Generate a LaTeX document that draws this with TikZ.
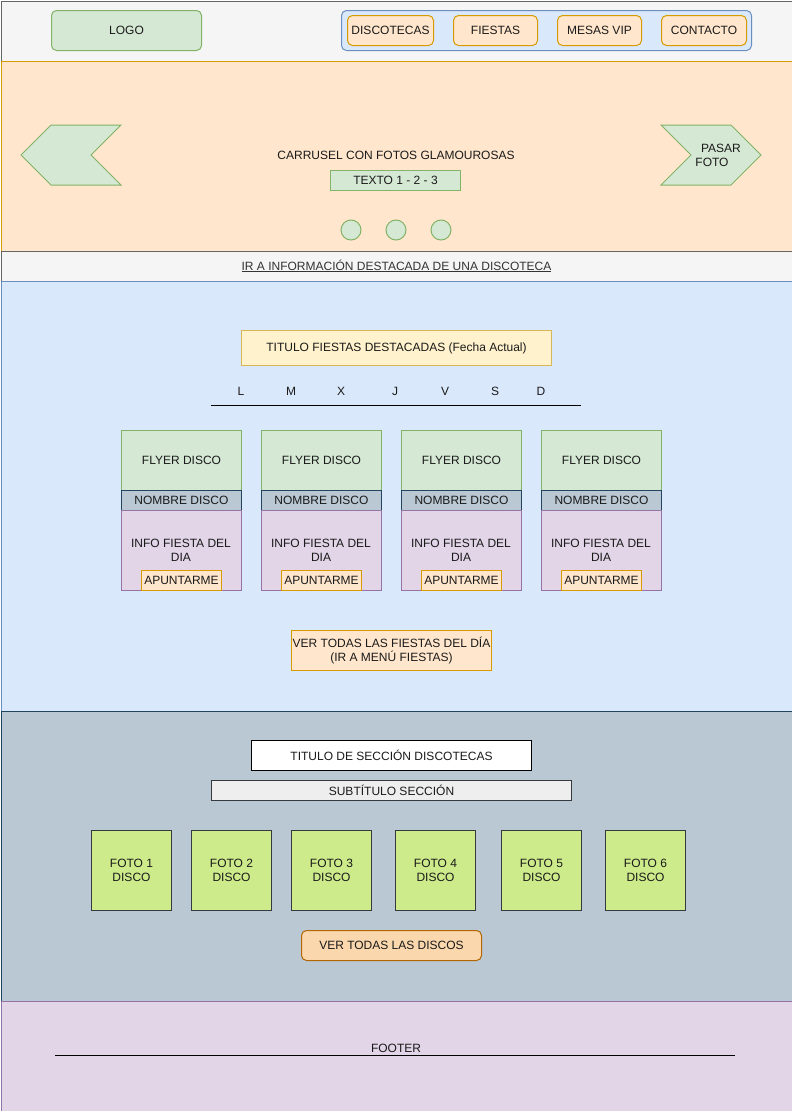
\documentclass[tikz,border=0pt]{standalone}
\usepackage{fontspec}
\setmainfont{Liberation Sans}
\definecolor{hdrF}{HTML}{F5F5F5}
\definecolor{hdrD}{HTML}{666666}
\definecolor{grnF}{HTML}{D5E8D4}
\definecolor{grnD}{HTML}{82B366}
\definecolor{bluF}{HTML}{DAE8FC}
\definecolor{bluD}{HTML}{6C8EBF}
\definecolor{orgF}{HTML}{FFE6CC}
\definecolor{orgD}{HTML}{D79B00}
\definecolor{yelF}{HTML}{FFF2CC}
\definecolor{yelD}{HTML}{D6B656}
\definecolor{gryF}{HTML}{BAC8D3}
\definecolor{gryD}{HTML}{23445D}
\definecolor{purF}{HTML}{E1D5E7}
\definecolor{purD}{HTML}{9673A6}
\definecolor{limF}{HTML}{CDEB8B}
\definecolor{drkD}{HTML}{36393D}
\definecolor{subF}{HTML}{EEEEEE}
\definecolor{btnF}{HTML}{FAD7AC}
\definecolor{btnD}{HTML}{B46504}
\definecolor{txt}{HTML}{1A1A1A}
\definecolor{lnk}{HTML}{333333}
\newcommand\bx[6]{\node[box,#1,minimum width=#4pt,minimum height=#5pt] (#2) at (#3) {#6};}
\begin{document}
\begin{tikzpicture}[x=1pt,y=-1pt,
  every node/.style={font=\fontsize{12}{14}\selectfont, text=txt, align=center, inner sep=0pt},
  box/.style={draw, line width=1pt, anchor=north west},
  hdr/.style={fill=hdrF, draw=hdrD},
  grn/.style={fill=grnF, draw=grnD},
  blu/.style={fill=bluF, draw=bluD},
  org/.style={fill=orgF, draw=orgD},
  yel/.style={fill=yelF, draw=yelD},
  gry/.style={fill=gryF, draw=gryD},
  pur/.style={fill=purF, draw=purD},
  lim/.style={fill=limF, draw=drkD},
  sub/.style={fill=subF, draw=drkD},
  wht/.style={fill=white, draw=black},
  btn/.style={fill=btnF, draw=btnD},
  rnd/.style={rounded corners=5pt},
  chev/.style={fill=grnF, draw=grnD, line width=1pt, line join=miter},
  dot/.style={circle, fill=grnF, draw=grnD, line width=1pt, minimum size=20pt},
  rule/.style={draw=black, line width=1pt},
  lbl/.style={anchor=center}
]
\useasboundingbox (0,0) rectangle (792,1111);
% sections
\bx{hdr}{header}{0.5,0.5}{791}{60}{}
\bx{org}{carousel}{0.5,60.5}{791}{190}{}
\bx{hdr}{linkbar}{0.5,250.5}{791}{30}{\color{lnk}\underline{IR A INFORMACIÓN DESTACADA DE UNA DISCOTECA}}
\bx{blu}{fiestas}{0.5,280.5}{791}{430}{}
\bx{gry}{discos}{0.5,710.5}{791}{290}{}
\bx{pur}{footer}{0.5,1000.5}{791}{110}{}
% header
\bx{grn,rnd}{logo}{51,10}{150}{40}{LOGO}
\bx{blu,rnd}{nav}{341,10}{410}{40}{}
\bx{org,rnd}{navA}{347,15}{86}{30}{DISCOTECAS}
\bx{org,rnd}{navB}{453,15}{84}{30}{FIESTAS}
\bx{org,rnd}{navC}{557,15}{84}{30}{MESAS VIP}
\bx{org,rnd}{navD}{661,15}{85}{30}{CONTACTO}
% carousel
\draw[chev] (21,155) -- (51,125) -- (121,125) -- (91,155) -- (121,185) -- (51,185) -- cycle;
\draw[chev] (661,125) -- (731,125) -- (761,155) -- (731,185) -- (661,185) -- (691,155) -- cycle;
\node[lbl] (pasar) at (721,148) {PASAR};
\node[lbl] (foto) at (712,162) {FOTO};
\node[lbl] (carr) at (396,155) {CARRUSEL CON FOTOS GLAMOUROSAS};
\bx{grn}{texto}{330,170}{130}{20}{TEXTO 1 - 2 - 3}
\node[dot] (d1) at (351,230) {};
\node[dot] (d2) at (396,230) {};
\node[dot] (d3) at (441,230) {};
% fiestas
\bx{yel}{titulo}{241,330}{310}{35}{TITULO FIESTAS DESTACADAS (Fecha Actual)}
\node[lbl] (dL) at (241,391) {L};
\node[lbl] (dM) at (291,391) {M};
\node[lbl] (dX) at (341,391) {X};
\node[lbl] (dJ) at (395,391) {J};
\node[lbl] (dV) at (445,391) {V};
\node[lbl] (dS) at (495,391) {S};
\node[lbl] (dD) at (541,391) {D};
\coordinate (r1) at (211,405);
\coordinate (r2) at (581,405);
\draw[rule] (r1) -- (r2);
\foreach \i/\x in {1/121,2/261,3/401,4/541}{
  \bx{grn}{fly\i}{\x,430}{120}{60}{FLYER DISCO}
  \bx{gry}{nom\i}{\x,490}{120}{20}{NOMBRE DISCO}
  \bx{pur}{inf\i}{\x,510}{120}{80}{}
  \node[lbl] (inft\i) at (\x+60,550) {INFO FIESTA DEL\\DIA};
  \bx{org}{apu\i}{\x+20,570}{80}{20}{APUNTARME}
}
\bx{org}{vertodas}{291,630}{200}{40}{VER TODAS LAS FIESTAS DEL DÍA\\(IR A MENÚ FIESTAS)}
% discotecas
\bx{wht}{tsec}{251,740}{280}{30}{TITULO DE SECCIÓN DISCOTECAS}
\bx{sub}{ssec}{211,780}{360}{20}{SUBTÍTULO SECCIÓN}
\foreach \i/\x in {1/91,2/191,3/291,4/395,5/501,6/605}{
  \bx{lim}{foto\i}{\x,830}{80}{80}{FOTO \i\\DISCO}
}
\bx{btn,rnd}{verdiscos}{301,930}{180}{30}{VER TODAS LAS DISCOS}
% footer
\node[lbl] (ftxt) at (396,1048) {FOOTER};
\coordinate (f1) at (55,1055);
\coordinate (f2) at (735,1055);
\draw[rule] (f1) -- (f2);
\end{tikzpicture}
\end{document}
